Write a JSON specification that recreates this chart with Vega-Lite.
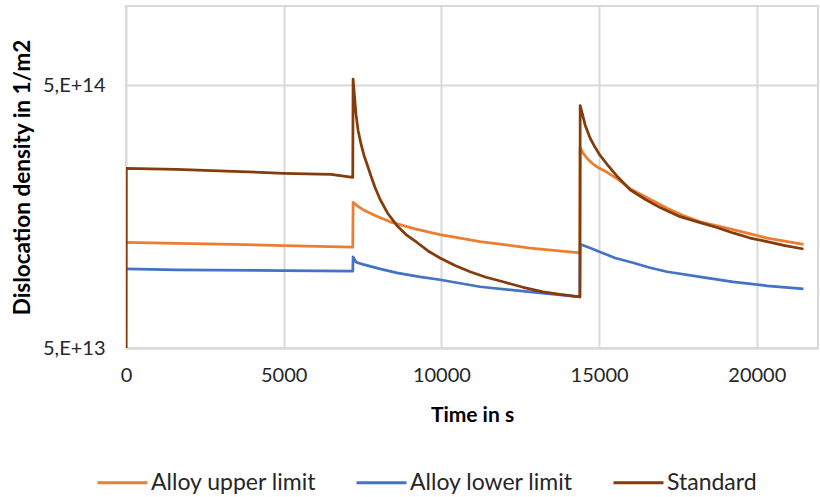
{
  "$schema": "https://vega.github.io/schema/vega-lite/v6.json",
  "width": 692,
  "height": 342,
  "autosize": "none",
  "padding": {"left": 126, "top": 6, "right": 2, "bottom": 149},
  "background": "white",
  "config": {
    "font": "Lato",
    "view": {"stroke": "#d9d9d9", "strokeWidth": 2}
  },
  "data": {
    "values": [
      {"series": "Alloy upper limit", "t": 0, "density": 1.26e14},
      {"series": "Alloy upper limit", "t": 1600, "density": 1.25e14},
      {"series": "Alloy upper limit", "t": 3400, "density": 1.24e14},
      {"series": "Alloy upper limit", "t": 5000, "density": 1.225e14},
      {"series": "Alloy upper limit", "t": 7190, "density": 1.21e14},
      {"series": "Alloy upper limit", "t": 7200, "density": 1.79e14},
      {"series": "Alloy upper limit", "t": 7357, "density": 1.73e14},
      {"series": "Alloy upper limit", "t": 7515, "density": 1.68e14},
      {"series": "Alloy upper limit", "t": 7896, "density": 1.595e14},
      {"series": "Alloy upper limit", "t": 8371, "density": 1.51e14},
      {"series": "Alloy upper limit", "t": 9164, "density": 1.42e14},
      {"series": "Alloy upper limit", "t": 9956, "density": 1.35e14},
      {"series": "Alloy upper limit", "t": 11225, "density": 1.27e14},
      {"series": "Alloy upper limit", "t": 12810, "density": 1.2e14},
      {"series": "Alloy upper limit", "t": 14390, "density": 1.15e14},
      {"series": "Alloy upper limit", "t": 14400, "density": 2.9e14},
      {"series": "Alloy upper limit", "t": 14495, "density": 2.75e14},
      {"series": "Alloy upper limit", "t": 14622, "density": 2.63e14},
      {"series": "Alloy upper limit", "t": 14780, "density": 2.52e14},
      {"series": "Alloy upper limit", "t": 14967, "density": 2.43e14},
      {"series": "Alloy upper limit", "t": 15253, "density": 2.33e14},
      {"series": "Alloy upper limit", "t": 15601, "density": 2.19e14},
      {"series": "Alloy upper limit", "t": 15982, "density": 2.02e14},
      {"series": "Alloy upper limit", "t": 16616, "density": 1.84e14},
      {"series": "Alloy upper limit", "t": 17156, "density": 1.7e14},
      {"series": "Alloy upper limit", "t": 17662, "density": 1.595e14},
      {"series": "Alloy upper limit", "t": 18202, "density": 1.51e14},
      {"series": "Alloy upper limit", "t": 19248, "density": 1.41e14},
      {"series": "Alloy upper limit", "t": 20326, "density": 1.31e14},
      {"series": "Alloy upper limit", "t": 21480, "density": 1.24e14},

      {"series": "Alloy lower limit", "t": 0, "density": 1.0e14},
      {"series": "Alloy lower limit", "t": 1600, "density": 9.92e13},
      {"series": "Alloy lower limit", "t": 5000, "density": 9.85e13},
      {"series": "Alloy lower limit", "t": 7190, "density": 9.8e13},
      {"series": "Alloy lower limit", "t": 7200, "density": 1.11e14},
      {"series": "Alloy lower limit", "t": 7300, "density": 1.06e14},
      {"series": "Alloy lower limit", "t": 7515, "density": 1.04e14},
      {"series": "Alloy lower limit", "t": 8054, "density": 1.0e14},
      {"series": "Alloy lower limit", "t": 8593, "density": 9.66e13},
      {"series": "Alloy lower limit", "t": 9323, "density": 9.33e13},
      {"series": "Alloy lower limit", "t": 9956, "density": 9.09e13},
      {"series": "Alloy lower limit", "t": 11225, "density": 8.55e13},
      {"series": "Alloy lower limit", "t": 12810, "density": 8.18e13},
      {"series": "Alloy lower limit", "t": 14390, "density": 7.83e13},
      {"series": "Alloy lower limit", "t": 14400, "density": 1.24e14},
      {"series": "Alloy lower limit", "t": 14717, "density": 1.2e14},
      {"series": "Alloy lower limit", "t": 15031, "density": 1.16e14},
      {"series": "Alloy lower limit", "t": 15507, "density": 1.1e14},
      {"series": "Alloy lower limit", "t": 16077, "density": 1.055e14},
      {"series": "Alloy lower limit", "t": 16616, "density": 1.01e14},
      {"series": "Alloy lower limit", "t": 17156, "density": 9.75e13},
      {"series": "Alloy lower limit", "t": 18202, "density": 9.33e13},
      {"series": "Alloy lower limit", "t": 19248, "density": 8.93e13},
      {"series": "Alloy lower limit", "t": 20326, "density": 8.62e13},
      {"series": "Alloy lower limit", "t": 21480, "density": 8.4e13},

      {"series": "Standard", "t": 0, "density": 1.0e13},
      {"series": "Standard", "t": 10, "density": 2.41e14},
      {"series": "Standard", "t": 1600, "density": 2.39e14},
      {"series": "Standard", "t": 3400, "density": 2.35e14},
      {"series": "Standard", "t": 5000, "density": 2.31e14},
      {"series": "Standard", "t": 6500, "density": 2.29e14},
      {"series": "Standard", "t": 7190, "density": 2.23e14},
      {"series": "Standard", "t": 7200, "density": 5.27e14},
      {"series": "Standard", "t": 7293, "density": 3.87e14},
      {"series": "Standard", "t": 7357, "density": 3.37e14},
      {"series": "Standard", "t": 7452, "density": 2.98e14},
      {"series": "Standard", "t": 7547, "density": 2.7e14},
      {"series": "Standard", "t": 7642, "density": 2.5e14},
      {"series": "Standard", "t": 7769, "density": 2.25e14},
      {"series": "Standard", "t": 7896, "density": 2.04e14},
      {"series": "Standard", "t": 8054, "density": 1.84e14},
      {"series": "Standard", "t": 8308, "density": 1.62e14},
      {"series": "Standard", "t": 8593, "density": 1.46e14},
      {"series": "Standard", "t": 8911, "density": 1.34e14},
      {"series": "Standard", "t": 9227, "density": 1.26e14},
      {"series": "Standard", "t": 9577, "density": 1.17e14},
      {"series": "Standard", "t": 9956, "density": 1.1e14},
      {"series": "Standard", "t": 10433, "density": 1.03e14},
      {"series": "Standard", "t": 10908, "density": 9.75e13},
      {"series": "Standard", "t": 11416, "density": 9.29e13},
      {"series": "Standard", "t": 11954, "density": 8.93e13},
      {"series": "Standard", "t": 12589, "density": 8.51e13},
      {"series": "Standard", "t": 13223, "density": 8.18e13},
      {"series": "Standard", "t": 13762, "density": 8.0e13},
      {"series": "Standard", "t": 14390, "density": 7.83e13},
      {"series": "Standard", "t": 14400, "density": 4.18e14},
      {"series": "Standard", "t": 14463, "density": 3.91e14},
      {"series": "Standard", "t": 14558, "density": 3.52e14},
      {"series": "Standard", "t": 14717, "density": 3.14e14},
      {"series": "Standard", "t": 14872, "density": 2.9e14},
      {"series": "Standard", "t": 15031, "density": 2.7e14},
      {"series": "Standard", "t": 15253, "density": 2.5e14},
      {"series": "Standard", "t": 15601, "density": 2.23e14},
      {"series": "Standard", "t": 15982, "density": 2.0e14},
      {"series": "Standard", "t": 16458, "density": 1.84e14},
      {"series": "Standard", "t": 16934, "density": 1.71e14},
      {"series": "Standard", "t": 17567, "density": 1.58e14},
      {"series": "Standard", "t": 18202, "density": 1.5e14},
      {"series": "Standard", "t": 18709, "density": 1.44e14},
      {"series": "Standard", "t": 19248, "density": 1.37e14},
      {"series": "Standard", "t": 19787, "density": 1.31e14},
      {"series": "Standard", "t": 20326, "density": 1.27e14},
      {"series": "Standard", "t": 20897, "density": 1.225e14},
      {"series": "Standard", "t": 21480, "density": 1.19e14}
    ]
  },
  "mark": {"type": "line", "strokeWidth": 2.75, "clip": true, "strokeJoin": "round"},
  "encoding": {
    "x": {
      "field": "t",
      "type": "quantitative",
      "scale": {"domain": [0, 21940], "nice": false, "zero": false},
      "axis": {
        "title": "Time in s",
        "titleFont": "Lato",
        "titleFontSize": 21,
        "titleFontWeight": "bold",
        "titleColor": "#000000",
        "titleY": 67,
        "titleBaseline": "middle",
        "values": [0, 5000, 10000, 15000, 20000],
        "format": "d",
        "labelFont": "Lato",
        "labelFontSize": 20,
        "labelColor": "#262626",
        "labelPadding": 17,
        "labelFlush": false,
        "ticks": false,
        "tickSize": 0,
        "domainColor": "#d9d9d9",
        "domainWidth": 2,
        "grid": true,
        "gridColor": "#d9d9d9",
        "gridWidth": 2
      }
    },
    "y": {
      "field": "density",
      "type": "quantitative",
      "scale": {"type": "log", "domain": [5e13, 1e15], "nice": false},
      "axis": {
        "title": "Dislocation density in 1/m2",
        "titleFont": "Lato",
        "titleFontSize": 22.5,
        "titleFontWeight": "bold",
        "titleColor": "#000000",
        "titleX": -104,
        "titleY": 171,
        "titleAngle": -90,
        "titleAlign": "center",
        "titleBaseline": "middle",
        "values": [5e13, 5e14],
        "labelExpr": "'5,E+' + format(floor(log(datum.value) / LN10), 'd')",
        "labelFont": "Lato",
        "labelFontSize": 20,
        "labelColor": "#262626",
        "labelPadding": 21,
        "ticks": false,
        "tickSize": 0,
        "domain": false,
        "grid": true,
        "gridColor": "#d9d9d9",
        "gridWidth": 2
      }
    },
    "color": {
      "field": "series",
      "type": "nominal",
      "scale": {
        "domain": ["Alloy upper limit", "Alloy lower limit", "Standard"],
        "range": ["#ED7D31", "#4472C4", "#843C0C"]
      },
      "legend": {
        "title": null,
        "orient": "none",
        "direction": "horizontal",
        "legendX": -30,
        "legendY": 450,
        "symbolType": "stroke",
        "symbolSize": 2500,
        "symbolStrokeWidth": 3,
        "labelFont": "Lato",
        "labelFontSize": 23,
        "labelLimit": 400,
        "labelColor": "#262626",
        "labelOffset": 2,
        "columnPadding": 33
      }
    }
  }
}
